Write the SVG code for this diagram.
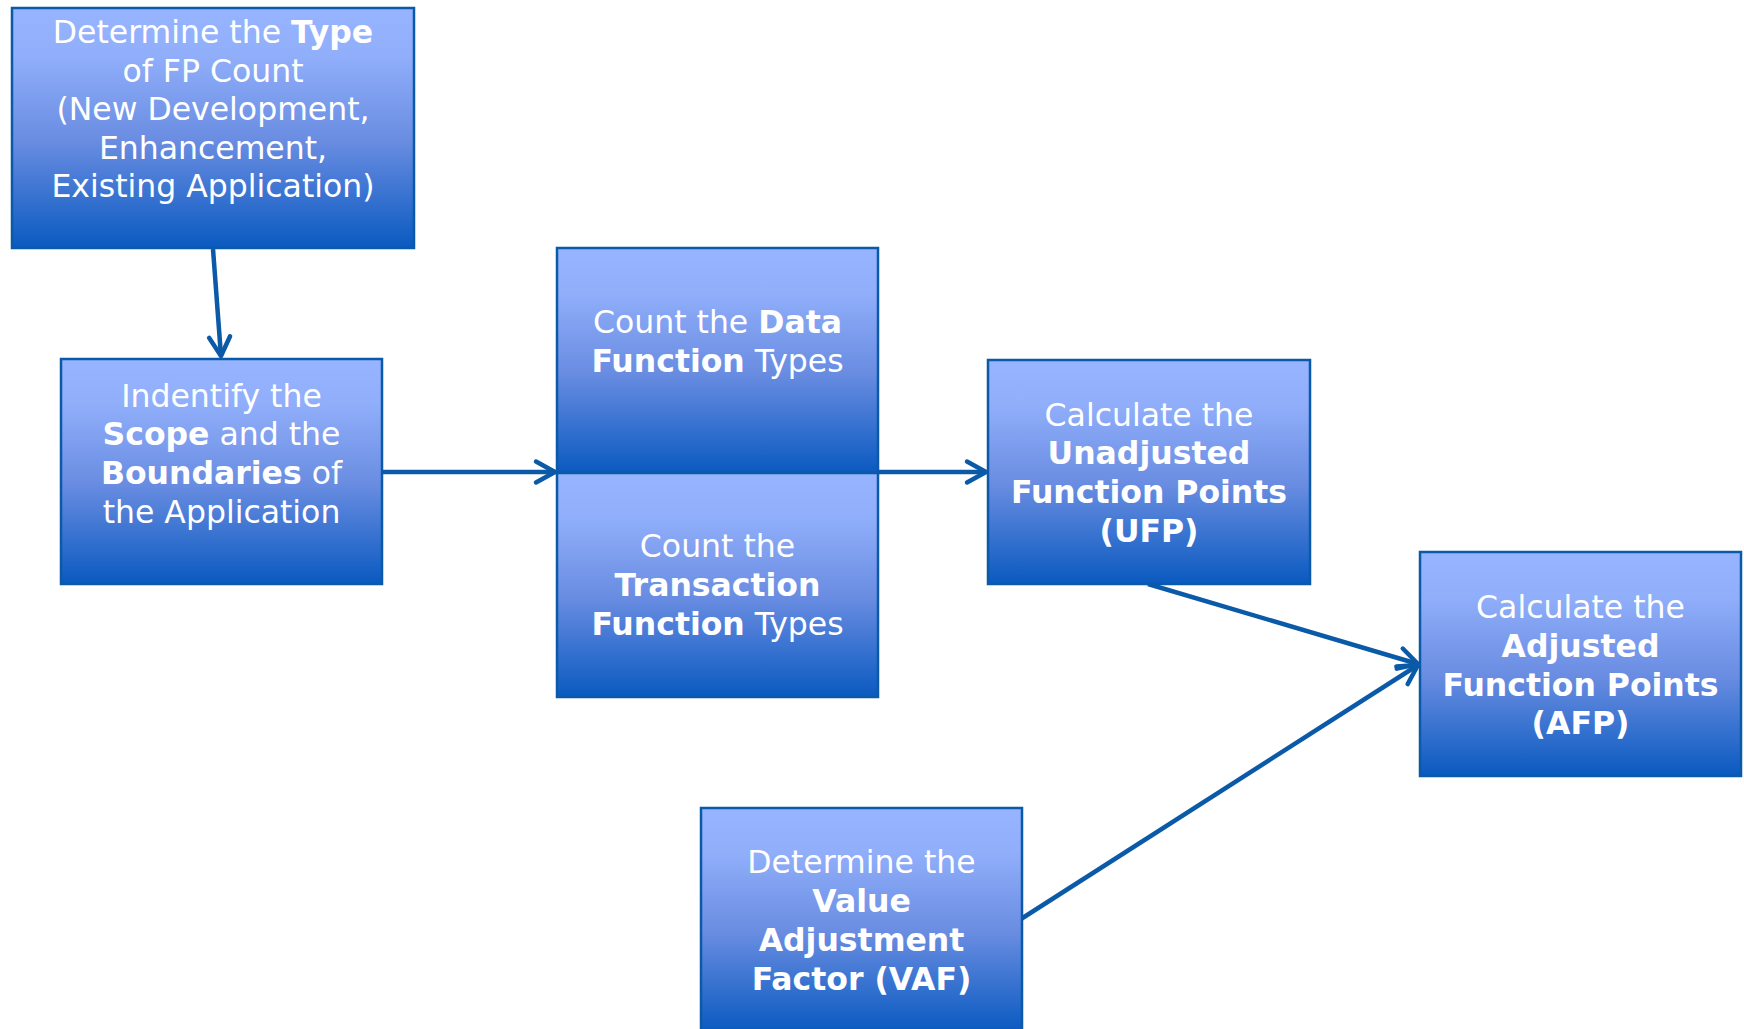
<svg xmlns="http://www.w3.org/2000/svg" width="1744" height="1029" viewBox="0 0 1744 1029">
  <defs>
    <linearGradient id="boxFill" x1="0" y1="0" x2="0" y2="1">
      <stop offset="0" stop-color="#96b4ff"/>
      <stop offset="0.2" stop-color="#90aefa"/>
      <stop offset="0.55" stop-color="#6a8de2"/>
      <stop offset="1" stop-color="#0a5ac0"/>
    </linearGradient>
    <marker id="chevron" markerUnits="userSpaceOnUse" viewBox="-24 -14 28 28" refX="0" refY="0" markerWidth="28" markerHeight="28" orient="auto" overflow="visible">
      <path d="M-19,-10.5 L0,0 L-19,10.5" fill="none" stroke="#0a5aa8" stroke-width="4.5" stroke-linecap="round" stroke-linejoin="round"/>
    </marker>
    <style>
      .box { fill: url(#boxFill); stroke: #0b5aa9; stroke-width: 2.5; }
      .label { font-family: "DejaVu Sans", Verdana, sans-serif; font-size: 31.5px; fill: #ffffff; text-anchor: middle; }
      .b { font-weight: bold; }
      .link { fill: none; stroke: #0a5aa8; stroke-width: 4.5; marker-end: url(#chevron); }
    </style>
  </defs>

  <rect width="1744" height="1029" fill="#ffffff"/>

  <!-- connectors -->
  <g id="connectors">
    <line class="link" x1="213" y1="249" x2="221" y2="356"/>
    <line class="link" x1="382" y1="472" x2="555" y2="472"/>
    <line class="link" x1="878" y1="472" x2="986" y2="472"/>
    <line class="link" x1="1148" y1="584" x2="1418" y2="664"/>
    <line class="link" x1="1021" y1="919" x2="1418" y2="665"/>
  </g>

  <!-- nodes -->
  <g id="fp-count-type">
    <rect class="box" x="12" y="8" width="402" height="240"/>
    <text class="label" x="213" y="43">Determine the <tspan class="b">Type</tspan></text>
    <text class="label" x="213" y="81.5">of FP Count</text>
    <text class="label" x="213" y="120">(New Development,</text>
    <text class="label" x="213" y="158.5">Enhancement,</text>
    <text class="label" x="213" y="197">Existing Application)</text>
  </g>

  <g id="scope-boundaries">
    <rect class="box" x="61" y="359" width="321" height="225"/>
    <text class="label" x="221.5" y="407">Indentify the</text>
    <text class="label" x="221.5" y="445"><tspan class="b">Scope</tspan> and the</text>
    <text class="label" x="221.5" y="484"><tspan class="b">Boundaries</tspan> of</text>
    <text class="label" x="221.5" y="523">the Application</text>
  </g>

  <g id="data-functions">
    <rect class="box" x="557" y="248" width="321" height="225"/>
    <text class="label" x="717.5" y="333">Count the <tspan class="b">Data</tspan></text>
    <text class="label" x="717.5" y="372"><tspan class="b">Function</tspan> Types</text>
  </g>

  <g id="transaction-functions">
    <rect class="box" x="557" y="473" width="321" height="224"/>
    <text class="label" x="717.5" y="557">Count the</text>
    <text class="label" x="717.5" y="596"><tspan class="b">Transaction</tspan></text>
    <text class="label" x="717.5" y="635"><tspan class="b">Function</tspan> Types</text>
  </g>

  <g id="ufp">
    <rect class="box" x="988" y="360" width="322" height="224"/>
    <text class="label" x="1149" y="426">Calculate the</text>
    <text class="label b" x="1149" y="464">Unadjusted</text>
    <text class="label b" x="1149" y="503">Function Points</text>
    <text class="label b" x="1149" y="542">(UFP)</text>
  </g>

  <g id="afp">
    <rect class="box" x="1420" y="552" width="321" height="224"/>
    <text class="label" x="1580.5" y="618">Calculate the</text>
    <text class="label b" x="1580.5" y="657">Adjusted</text>
    <text class="label b" x="1580.5" y="696">Function Points</text>
    <text class="label b" x="1580.5" y="734">(AFP)</text>
  </g>

  <g id="vaf">
    <rect class="box" x="701" y="808" width="321" height="224"/>
    <text class="label" x="861.5" y="873">Determine the</text>
    <text class="label b" x="861.5" y="912">Value</text>
    <text class="label b" x="861.5" y="951">Adjustment</text>
    <text class="label b" x="861.5" y="990">Factor (VAF)</text>
  </g>
</svg>
